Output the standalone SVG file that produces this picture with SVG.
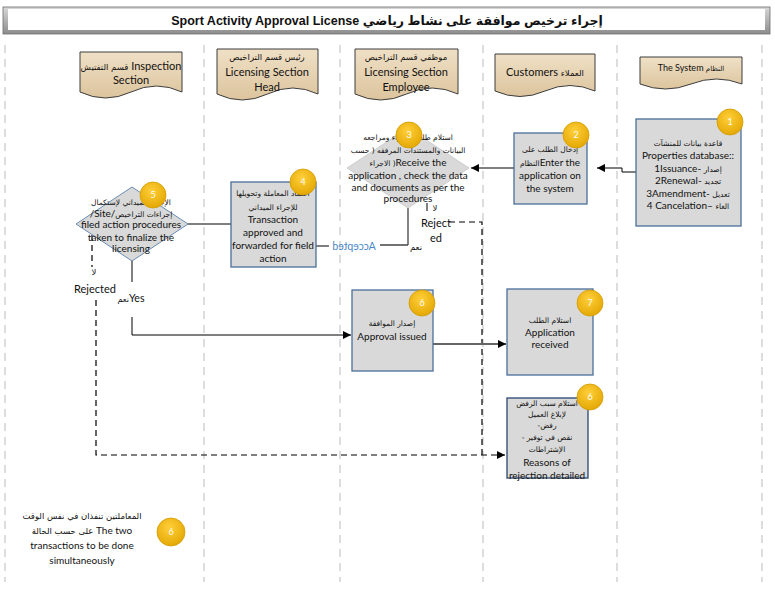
<svg xmlns="http://www.w3.org/2000/svg" width="775" height="610" viewBox="0 0 775 610">
<defs>
<linearGradient id="tan" x1="0" y1="0" x2="0" y2="1"><stop offset="0" stop-color="#efe0c6"/><stop offset="1" stop-color="#dcc49d"/></linearGradient>
<linearGradient id="bar" x1="0" y1="0" x2="0" y2="1"><stop offset="0" stop-color="#d8d8d8"/><stop offset="1" stop-color="#8c8c8c"/></linearGradient>
<radialGradient id="gold" cx="0.45" cy="0.35" r="0.7"><stop offset="0" stop-color="#ffcf3a"/><stop offset="1" stop-color="#e2a500"/></radialGradient>
<marker id="arr" viewBox="0 0 10 10" refX="10" refY="5" markerWidth="9" markerHeight="8" markerUnits="userSpaceOnUse" orient="auto"><path d="M0,0 L10,5 L0,10 Z" fill="#000"/></marker>
<style>
text{font-family:Lato,"DejaVu Sans",sans-serif;fill:#111;text-anchor:middle}
.t{font-size:10px}
.h{font-size:11px}
.ar{font-family:"DejaVu Sans",sans-serif;font-size:7.5px}
.lane{stroke:#d2d2d2;stroke-width:1.5;stroke-dasharray:8,6;fill:none}
.hdr{fill:url(#tan);stroke:#3c3c3c;stroke-width:1}
.box{fill:#d9d9d9;stroke:#4a6f98;stroke-width:1.3}
.badge{fill:url(#gold);stroke:#d39c00;stroke-width:0.8}
.bn{fill:#fff;font-size:9px}
.ln{stroke:#000;stroke-width:1;fill:none}
.dash{stroke:#000;stroke-width:1.2;stroke-dasharray:6,4;fill:none}
</style>
</defs>
<rect width="775" height="610" fill="#fff"/>
<g id="lanes">
<path class="lane" d="M5,45V582M204,45V582M340,45V582M483,45V582M617,45V582M762,45V582"/>
</g>
<g id="title">
<rect x="3" y="7" width="767" height="27" fill="url(#bar)" stroke="#6e6e6e" stroke-width="0.8"/>
<rect x="8" y="9" width="757" height="21" fill="#fff"/>
<text x="387" y="25" direction="rtl" style="font-family:'Liberation Sans','DejaVu Sans',sans-serif;font-size:12.5px;font-weight:bold">إجراء ترخيص موافقة على نشاط رياضي Sport Activity Approval License</text>
</g>
<g id="hdr-inspection">
<path class="hdr" d="M80,52H182V92Q156.5,80 131,92T80,92Z"/>
<text class="h" x="131" y="70"><tspan class="ar" style="font-size:8.5px">قسم التفتيش</tspan>  Inspection</text>
<text class="h" x="131" y="84">Section</text>
</g>
<g id="hdr-head">
<path class="hdr" d="M217,49H318V94Q292.75,82 267.5,94T217,94Z"/>
<text class="ar" x="267" y="60" style="font-size:8.5px">رئيس قسم التراخيص</text>
<text class="h" x="267" y="76">Licensing Section</text>
<text class="h" x="267" y="91">Head</text>
</g>
<g id="hdr-employee">
<path class="hdr" d="M355,49H458V94Q432.25,82 406.5,94T355,94Z"/>
<text class="ar" x="406" y="60" style="font-size:8.5px">موظفي قسم التراخيص</text>
<text class="h" x="406" y="76">Licensing Section</text>
<text class="h" x="406" y="91">Employee</text>
</g>
<g id="hdr-customers">
<path class="hdr" d="M495,54H595V91Q570,80 545,91T495,91Z"/>
<text class="h" x="545" y="76">Customers <tspan class="ar" style="font-size:8.5px">العملاء</tspan></text>
</g>
<g id="hdr-system">
<path class="hdr" d="M640,57H742V84Q716.5,74 691,84T640,84Z"/>
<text x="691" y="71" style="font-size:9px">The System  <tspan class="ar" style="font-size:7px">النظام</tspan></text>
</g>
<g id="connectors">
<path class="ln" d="M636,172H622V168H597" marker-end="url(#arr)"/>
<path class="ln" d="M514,168H471" marker-end="url(#arr)"/>
<path class="ln" d="M408,208V245M408,245H380" style="stroke:#444;stroke-width:1.3"/>
<path class="ln" d="M329,246H307" style="stroke:#555;stroke-width:1.5" marker-end="url(#arr)"/>
<path class="ln" d="M231,224H188"/>
<path class="ln" d="M427,203V211"/>
<path class="dash" d="M449,222H482V455"/>
<path class="dash" d="M92,235V267"/>
<path class="dash" d="M96,300V455H505" marker-end="url(#arr)"/>
<path class="ln" d="M132,260V282M132,317V335H351" marker-end="url(#arr)"/>
<path class="ln" d="M433,344H506" style="stroke:#666;stroke-width:2" marker-end="url(#arr)"/>
<text class="ar" x="435" y="211" style="font-size:8.5px">لا</text>
<text x="436" y="227" style="font-size:11px">Reject</text>
<text x="436" y="242" style="font-size:11px">ed</text>
<text class="ar" x="416" y="250" style="font-size:8.5px">نعم</text>
<text transform="translate(708,0) scale(-1,1)" x="354" y="250" style="font-size:10.5px;fill:#4a86c8">Accepted</text>
<text class="ar" x="94" y="275" style="font-size:8.5px">لا</text>
<text x="95" y="293" style="font-size:11px">Rejected</text>
<text x="131" y="302" style="font-size:10.5px"><tspan class="ar" style="font-size:8px">نعم</tspan>Yes</text>
</g>
<g id="n1">
<rect class="box" x="636" y="119" width="105" height="107"/>
<text class="ar" x="688" y="146">قاعدة بيانات للمنشآت</text>
<text class="t" x="688" y="159">Properties database::</text>
<text class="t" x="688" y="172">1Issuance- <tspan class="ar">إصدار</tspan></text>
<text class="t" x="688" y="184">2Renewal- <tspan class="ar">تجديد</tspan></text>
<text class="t" x="688" y="197">3Amendment- <tspan class="ar">تعديل</tspan></text>
<text class="t" x="688" y="209">4 Cancelation– <tspan class="ar">الغاء</tspan></text>
<circle class="badge" cx="730" cy="122" r="13"/><text class="bn" x="730" y="125">1</text>
</g>
<g id="n2">
<rect class="box" x="514" y="133" width="73" height="71"/>
<text class="ar" x="550" y="152">إدخال الطلب على</text>
<text class="t" x="550" y="166"><tspan class="ar">النظام</tspan>Enter the</text>
<text class="t" x="550" y="179">application on</text>
<text class="t" x="550" y="192">the system</text>
<circle class="badge" cx="576" cy="135" r="13"/><text class="bn" x="576" y="138">2</text>
</g>
<g id="n3">
<path d="M408,128L469,168L408,208L347,168Z" fill="#d9d9d9" stroke="#cfcfcf"/>
<text class="ar" x="408" y="140">استلام طلب الإجراء ومراجعه</text>
<text class="ar" x="408" y="153">البيانات والمستندات المرفقه ( حسب</text>
<text class="t" x="408" y="166"><tspan class="ar">الاجراء )</tspan>Receive the</text>
<text class="t" x="408" y="179">application , check the data</text>
<text class="t" x="408" y="191">and documents as per the</text>
<text class="t" x="408" y="202">procedures</text>
<circle class="badge" cx="409" cy="135" r="13"/><text class="bn" x="409" y="138">3</text>
</g>
<g id="n4">
<rect class="box" x="231" y="182" width="85" height="85"/>
<text class="ar" x="273" y="196">اعتماد المعاملة وتحويلها</text>
<text class="ar" x="273" y="210">للإجراء الميداني</text>
<text class="t" x="273" y="223">Transaction</text>
<text class="t" x="273" y="236">approved and</text>
<text class="t" x="273" y="249">forwarded for field</text>
<text class="t" x="273" y="262">action</text>
<circle class="badge" cx="303" cy="182" r="13"/><text class="bn" x="303" y="185">4</text>
</g>
<g id="n5">
<path d="M132,187L188,224L132,261L76,224Z" fill="#d9d9d9" stroke="#6a8cb4" stroke-width="1"/>
<text class="ar" x="131" y="205">الإجراء الميداني لإستكمال</text>
<text class="t" x="131" y="217">/Site/<tspan class="ar">إجراءات التراخيص</tspan></text>
<text class="t" x="131" y="228">filed action procedures</text>
<text class="t" x="131" y="241">taken to finalize the</text>
<text class="t" x="131" y="252">licensing</text>
<circle class="badge" cx="153" cy="195" r="13"/><text class="bn" x="153" y="198">5</text>
</g>
<g id="n6">
<rect class="box" x="352" y="290" width="81" height="81"/>
<text class="ar" x="392" y="326">إصدار الموافقة</text>
<text class="t" x="392" y="340">Approval issued</text>
<circle class="badge" cx="422" cy="303" r="13"/><text class="bn" x="422" y="306">6</text>
</g>
<g id="n7">
<rect class="box" x="507" y="289" width="86" height="86"/>
<text class="ar" x="550" y="323">استلام الطلب</text>
<text class="t" x="550" y="336">Application</text>
<text class="t" x="550" y="348">received</text>
<circle class="badge" cx="590" cy="303" r="13"/><text class="bn" x="590" y="306">7</text>
</g>
<g id="n6b">
<rect class="box" x="507" y="398" width="81" height="80" style="stroke:#2b4570"/>
<text class="ar" x="547" y="406">استلام سبب الرفض</text>
<text class="ar" x="547" y="417">لإبلاغ العميل</text>
<text class="ar" x="547" y="428">-رفض</text>
<text class="ar" x="547" y="440">- نقص في توفير</text>
<text class="ar" x="547" y="452">الإشتراطات</text>
<text class="t" x="547" y="466">Reasons of</text>
<text class="t" x="547" y="479">rejection detailed</text>
<circle class="badge" cx="590" cy="397" r="13"/><text class="bn" x="590" y="400">6</text>
</g>
<g id="note">
<text class="ar" x="82" y="519" style="font-size:8.5px">المعاملتين تنفذان في نفس الوقت</text>
<text class="t" x="82" y="534"><tspan class="ar" style="font-size:8.5px">على حسب الحالة</tspan> The two</text>
<text class="t" x="82" y="549">transactions to be done</text>
<text class="t" x="82" y="564">simultaneously</text>
<circle class="badge" cx="171" cy="532" r="14"/><text class="bn" x="171" y="535">6</text>
</g>
</svg>
